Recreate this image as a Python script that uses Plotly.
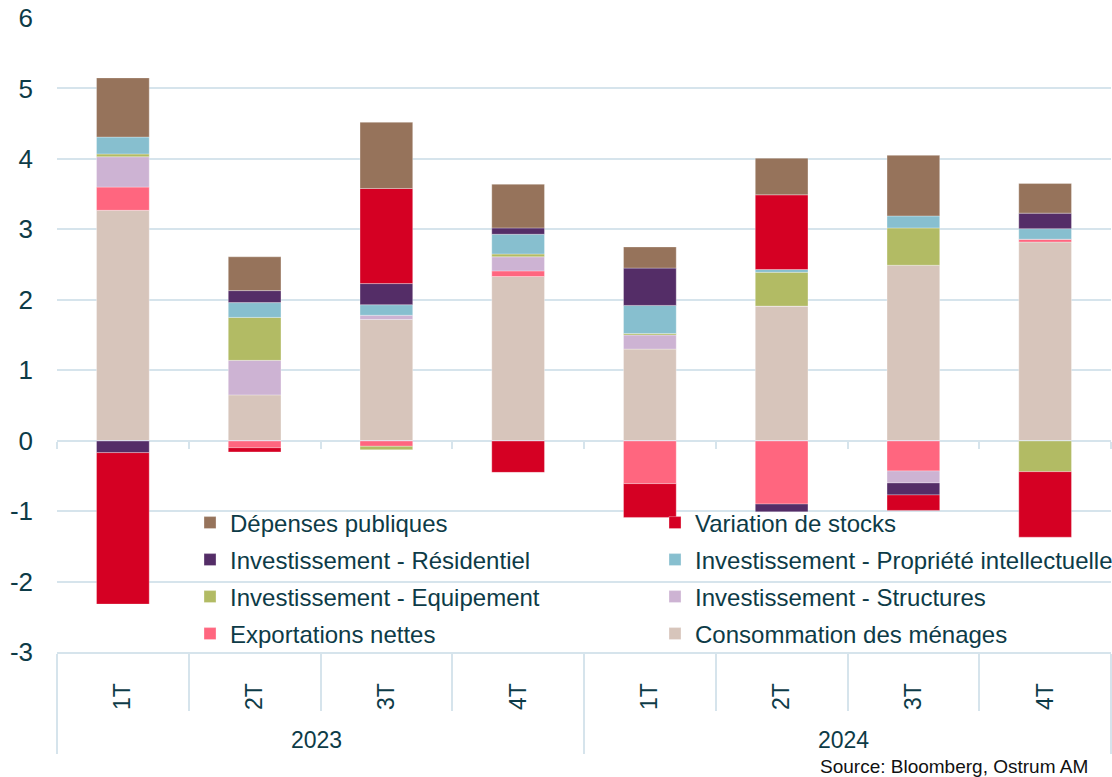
import plotly.graph_objects as go

# ── données ──
years = ["2023"] * 4 + ["2024"] * 4
quarters = ["1T", "2T", "3T", "4T", "1T", "2T", "3T", "4T"]

consommation = [3.27, 0.65, 1.72, 2.33, 1.30, 1.91, 2.49, 2.82]
exportations = [0.33, -0.10, -0.08, 0.08, -0.61, -0.90, -0.43, 0.04]
structures = [0.43, 0.49, 0.06, 0.20, 0.20, 0.00, -0.17, 0.00]
equipement = [0.04, 0.61, -0.05, 0.04, 0.02, 0.48, 0.53, -0.44]
propriete = [0.24, 0.21, 0.15, 0.28, 0.40, 0.04, 0.17, 0.15]
residentiel = [-0.17, 0.17, 0.30, 0.09, 0.53, -0.11, -0.17, 0.22]
stocks = [-2.15, -0.06, 1.35, -0.45, -0.48, 1.06, -0.22, -0.93]
depenses = [0.84, 0.48, 0.94, 0.62, 0.30, 0.52, 0.86, 0.42]

y_ticks = list(range(-3, 7))

# ordre d'empilement (du bas vers le haut) + ligne de légende
series = [
    ("Consommation des ménages", consommation, "#d7c5bb", "legend4"),
    ("Exportations nettes", exportations, "#ff667f", "legend4"),
    ("Investissement - Structures", structures, "#cdb3d3", "legend3"),
    ("Investissement - Equipement", equipement, "#b2bb64", "legend3"),
    ("Investissement - Propriété intellectuelle", propriete, "#87bfcf", "legend2"),
    ("Investissement - Résidentiel", residentiel, "#542d67", "legend2"),
    ("Variation de stocks", stocks, "#d50023", "legend"),
    ("Dépenses publiques", depenses, "#96735b", "legend"),
]

TEXT = "#0d3b47"
GRID = "#d6e4ec"
FONT = "Liberation Sans, Arial, sans-serif"

# espaces insécables en tête : laissent de la place sous les trimestres pour les années
x_cat = [years, ["\u00a0\u00a0\u200a" + q for q in quarters]]

fig = go.Figure()
for name, vals, color, leg in series:
    fig.add_trace(go.Bar(
        x=x_cat,
        y=vals,
        name=name,
        legend=leg,
        marker=dict(color=color, line=dict(color="rgba(255,255,255,0.6)", width=0.5)),
        hovertemplate="%{x}<br>" + name + ": %{y:.2f}<extra></extra>",
    ))

# petites graduations sur la ligne du zéro
fig.add_trace(go.Bar(
    x=x_cat, y=[0] * 8, xaxis="x2",
    showlegend=False, hoverinfo="skip", marker=dict(color="rgba(0,0,0,0)"),
))

# légende : 4 lignes de 2 entrées
plot_h = 777 - 18 - 125
row0, row_gap = 523, 37
legends = {}
for i, key in enumerate(["legend", "legend2", "legend3", "legend4"]):
    legends[key] = dict(
        orientation="h",
        traceorder="reversed",
        x=0.1262, xanchor="left",
        y=(652 - (row0 + i * row_gap)) / plot_h, yanchor="middle",
        entrywidth=420,
        bgcolor="rgba(0,0,0,0)",
        font=dict(size=24, color=TEXT),
    )

y0 = y_ticks[0]
fig.update_layout(
    width=1112,
    height=777,
    barmode="relative",
    bargap=0.6,
    paper_bgcolor="white",
    plot_bgcolor="white",
    font=dict(family=FONT, color=TEXT, size=22),
    margin=dict(l=57, r=1, t=18, b=125, autoexpand=False),
    **legends,
    yaxis=dict(
        range=[y_ticks[0], y_ticks[-1]],
        tickvals=y_ticks,
        ticktext=[str(v) for v in y_ticks],
        showgrid=True,
        gridcolor=GRID,
        gridwidth=2,
        zeroline=True,
        zerolinecolor=GRID,
        zerolinewidth=2,
        tickfont=dict(size=26, color=TEXT),
        ticklabelstandoff=23,
        automargin=False,
    ),
    xaxis=dict(
        showgrid=False,
        showline=True,
        linecolor=GRID,
        linewidth=2,
        ticks="outside",
        tickson="boundaries",
        ticklen=57,
        tickwidth=2,
        tickcolor=GRID,
        tickangle=-90,
        ticklabelstandoff=20,
        tickfont=dict(size=23, color=TEXT),
        showdividers=True,
        dividercolor=GRID,
        dividerwidth=2,
        automargin=False,
    ),
    xaxis2=dict(
        overlaying="x",
        anchor="free",
        position=(0 - y0) / (y_ticks[-1] - y0),
        showgrid=False,
        showline=False,
        ticks="outside",
        tickson="boundaries",
        ticklen=7,
        tickwidth=2,
        tickcolor=GRID,
        showticklabels=False,
        showdividers=False,
        automargin=False,
    ),
    annotations=[dict(
        text="Source: Bloomberg, Ostrum AM",
        xref="paper", yref="paper",
        x=(1090 - 57) / 1054, y=-(766 - 652) / plot_h,
        xanchor="right", yanchor="middle",
        showarrow=False,
        font=dict(size=19, color="#111111", family=FONT),
    )],
)

fig.write_html(
    "out.html",
    config={"displayModeBar": False},
    post_script="document.body.style.margin = '0px';",
)
